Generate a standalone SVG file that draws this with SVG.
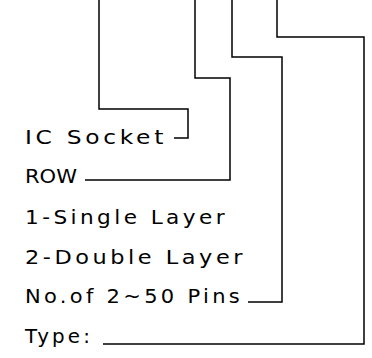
<svg xmlns="http://www.w3.org/2000/svg" width="372" height="358" viewBox="0 0 372 358">
<style>
.lbl{font-family:"DejaVu Sans","Liberation Sans",sans-serif;font-size:19px;letter-spacing:3px;fill:#000}
.tight{letter-spacing:0}
.ln{fill:none;stroke:#000;stroke-width:1.5}
</style>
<rect width="372" height="358" fill="#fff"/>
<g id="connectors">
<path class="ln" d="M99,0 V109 H188 V138 H174"/>
<path class="ln" d="M195,0 V78 H230 V180 H85"/>
<path class="ln" d="M232,0 V57 H282 V302 H248"/>
<path class="ln" d="M277,0 V37 H364 V344 H103"/>
</g>
<g id="ic-socket"><text class="lbl" x="25" y="144" textLength="142" lengthAdjust="spacingAndGlyphs">IC Socket</text></g>
<g id="row"><text class="lbl tight" x="25" y="183" textLength="52" lengthAdjust="spacingAndGlyphs">ROW</text></g>
<g id="single"><text class="lbl" x="25" y="224" textLength="203" lengthAdjust="spacingAndGlyphs">1-Single Layer</text></g>
<g id="double"><text class="lbl" x="25" y="264" textLength="221" lengthAdjust="spacingAndGlyphs">2-Double Layer</text></g>
<g id="pins"><text class="lbl" x="25" y="303" textLength="218" lengthAdjust="spacingAndGlyphs">No.of 2~50 Pins</text></g>
<g id="type"><text class="lbl" x="25" y="343" textLength="68" lengthAdjust="spacingAndGlyphs">Type:</text></g>
</svg>
